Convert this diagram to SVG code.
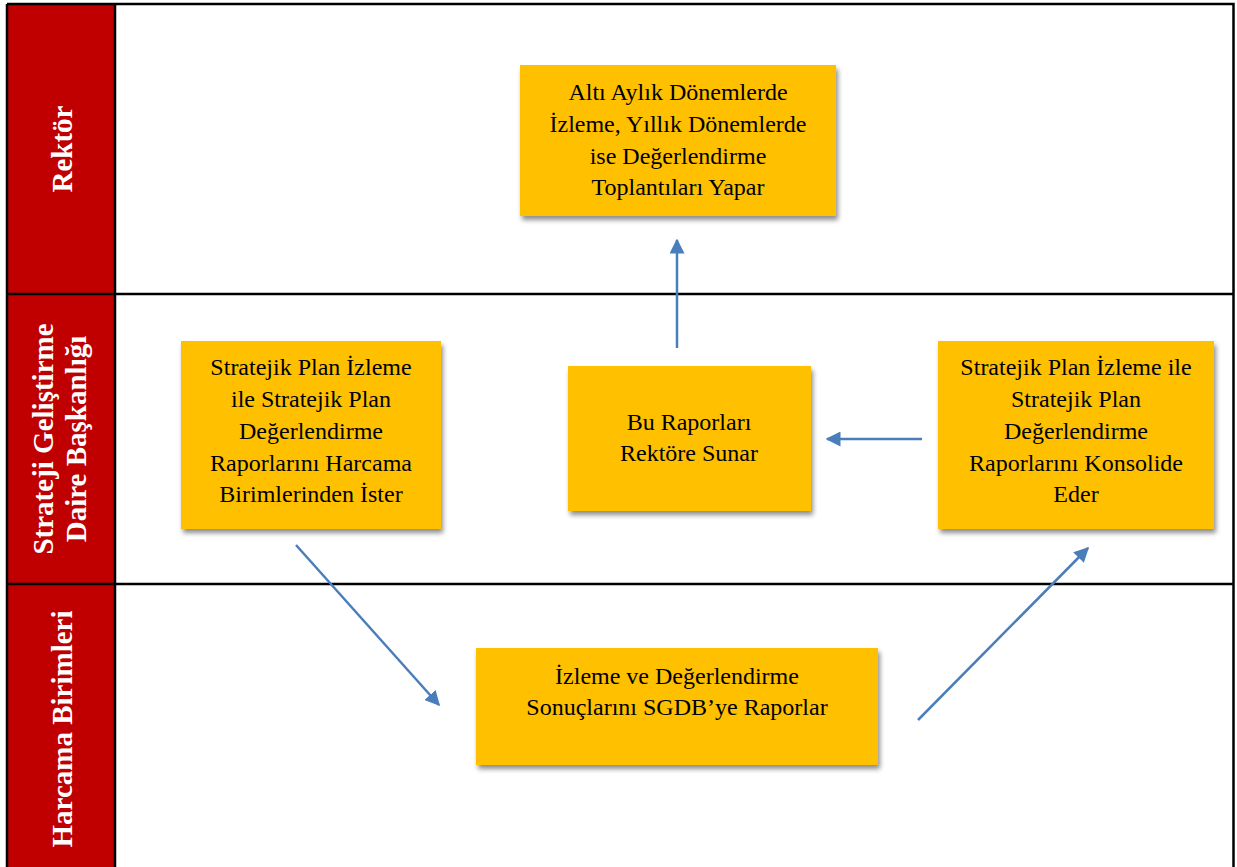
<svg xmlns="http://www.w3.org/2000/svg" width="1237" height="867" viewBox="0 0 1237 867">
<style>
.lane{fill:#C00000;stroke:none}
.grid{stroke:#000;stroke-width:2.5;fill:none}
.box{fill:#FFC000}
.t{font-family:"Liberation Serif","Times New Roman",serif;font-size:24px;fill:#000;text-anchor:middle}
.lt{font-family:"Liberation Serif","Times New Roman",serif;font-size:29px;font-weight:bold;fill:#fff;text-anchor:middle}
.arr{stroke:#4A7EBB;stroke-width:2.5;fill:none;marker-end:url(#ah)}
</style>
<defs>
<marker id="ah" viewBox="0 0 10 10" refX="9" refY="5" markerWidth="6" markerHeight="6" orient="auto" markerUnits="strokeWidth">
<path d="M0,0 L10,5 L0,10 Z" fill="#4A7EBB"/>
</marker>
<filter id="sh" x="-10%" y="-10%" width="125%" height="130%">
<feGaussianBlur in="SourceAlpha" stdDeviation="2.5"/>
<feOffset dx="2" dy="4" result="b"/>
<feComponentTransfer><feFuncA type="linear" slope="0.45"/></feComponentTransfer>
<feMerge><feMergeNode/><feMergeNode in="SourceGraphic"/></feMerge>
</filter>
</defs>
<rect width="1237" height="867" fill="#fff"/>
<g id="lanes">
<rect class="lane" x="7" y="4" width="108" height="870"/>
<path class="grid" d="M7,4 H1233.5 V870 M7,4 V870 M115,4 V870 M7,294 H1233.5 M7,584 H1233.5"/>
<text class="lt" transform="translate(72,149) rotate(-90)">Rektör</text>
<text class="lt" transform="translate(53,439) rotate(-90)">Strateji Geliştirme</text>
<text class="lt" transform="translate(86,439) rotate(-90)">Daire Başkanlığı</text>
<text class="lt" transform="translate(72,729) rotate(-90)">Harcama Birimleri</text>
</g>
<g id="connectors">
<line class="arr" x1="677" y1="348" x2="677" y2="240"/>
<line class="arr" x1="922" y1="439" x2="827" y2="439"/>
<line class="arr" x1="296" y1="545" x2="439" y2="705"/>
<line class="arr" x1="918" y1="720" x2="1088" y2="548"/>
</g>
<g id="n_rektor">
<rect class="box" x="520" y="65" width="316" height="151" filter="url(#sh)"/>
<text class="t" x="678" y="100">Altı Aylık Dönemlerde</text>
<text class="t" x="678" y="132">İzleme, Yıllık Dönemlerde</text>
<text class="t" x="678" y="164">ise Değerlendirme</text>
<text class="t" x="678" y="195">Toplantıları Yapar</text>
</g>
<g id="n_ister">
<rect class="box" x="181" y="341" width="260" height="188" filter="url(#sh)"/>
<text class="t" x="311" y="375">Stratejik Plan İzleme</text>
<text class="t" x="311" y="407">ile Stratejik Plan</text>
<text class="t" x="311" y="439">Değerlendirme</text>
<text class="t" x="311" y="471">Raporlarını Harcama</text>
<text class="t" x="311" y="502">Birimlerinden İster</text>
</g>
<g id="n_sunar">
<rect class="box" x="568" y="366" width="243" height="145" filter="url(#sh)"/>
<text class="t" x="689" y="430">Bu Raporları</text>
<text class="t" x="689" y="461">Rektöre Sunar</text>
</g>
<g id="n_konsolide">
<rect class="box" x="938" y="341" width="276" height="188" filter="url(#sh)"/>
<text class="t" x="1076" y="375">Stratejik Plan İzleme ile</text>
<text class="t" x="1076" y="407">Stratejik Plan</text>
<text class="t" x="1076" y="439">Değerlendirme</text>
<text class="t" x="1076" y="471">Raporlarını Konsolide</text>
<text class="t" x="1076" y="502">Eder</text>
</g>
<g id="n_raporlar">
<rect class="box" x="476" y="648" width="402" height="117" filter="url(#sh)"/>
<text class="t" x="677" y="684">İzleme ve Değerlendirme</text>
<text class="t" x="677" y="715">Sonuçlarını SGDB’ye Raporlar</text>
</g>
</svg>
